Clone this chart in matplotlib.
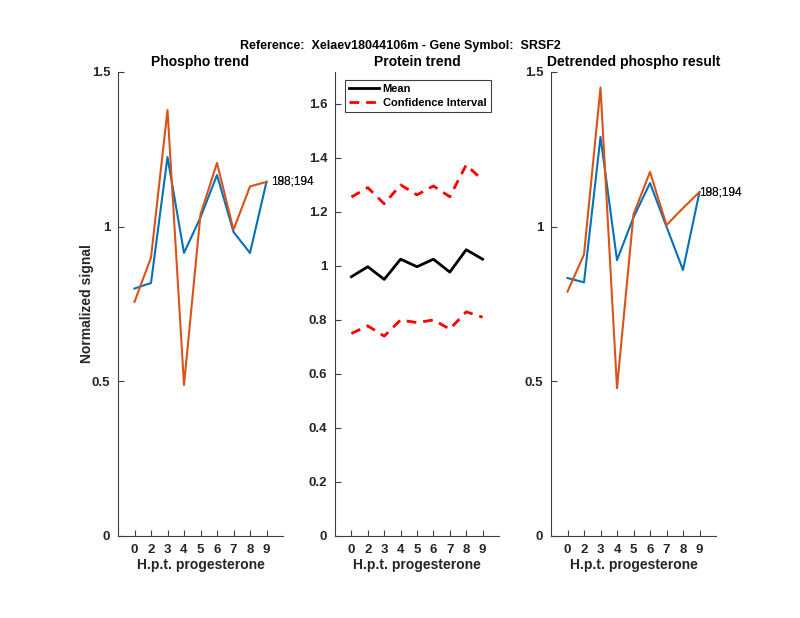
import matplotlib
matplotlib.use("Agg")
import matplotlib.pyplot as plt

plt.rcParams['font.family'] = ['Liberation Sans', 'DejaVu Sans']

timepoints = ['0', '2', '3', '4', '5', '6', '7', '8', '9']
xpos = list(range(1, 10))

phospho_blue = [0.80, 0.818, 1.225, 0.915, 1.03, 1.167, 0.983, 0.915, 1.145]
phospho_orange = [0.757, 0.90, 1.377, 0.488, 1.04, 1.206, 0.99, 1.13, 1.145]

protein_mean = [0.96, 0.997, 0.95, 1.025, 0.997, 1.025, 0.977, 1.06, 1.025]
protein_lower = [0.75, 0.778, 0.74, 0.80, 0.79, 0.80, 0.766, 0.83, 0.81]
protein_upper = [1.255, 1.29, 1.23, 1.30, 1.263, 1.296, 1.256, 1.374, 1.318]

detr_blue = [0.834, 0.82, 1.29, 0.892, 1.03, 1.141, 1.0, 0.86, 1.112]
detr_orange = [0.79, 0.91, 1.45, 0.478, 1.04, 1.177, 1.005, 1.06, 1.112]

site_labels = ['188;194', '198;194']

BLUE = '#0072BD'
ORANGE = '#D95319'
AXC = '#404040'
TXT = '#262626'

fig = plt.figure(figsize=(8, 6.18), dpi=100)
W, H = 800, 618

def make_ax(x0, x1, y0=72, y1=536):
    return fig.add_axes([x0 / W, (H - y1) / H, (x1 - x0) / W, (y1 - y0) / H])

axes = [make_ax(118, 283), make_ax(335, 499), make_ax(551, 716)]

def style(ax, ylim, yticks, yticklabels):
    ax.set_xlim(0, 10)
    ax.set_ylim(*ylim)
    ax.set_xticks(xpos)
    ax.set_xticklabels(timepoints)
    ax.set_yticks(yticks)
    ax.set_yticklabels(yticklabels)
    for s in ['top', 'right']:
        ax.spines[s].set_visible(False)
    for s in ['left', 'bottom']:
        ax.spines[s].set_color(AXC)
        ax.spines[s].set_linewidth(0.8)
    ax.tick_params(direction='in', length=4, width=0.8, color=AXC,
                   labelsize=9.5, labelcolor=TXT, pad=5.5)
    for lab in ax.get_xticklabels() + ax.get_yticklabels():
        lab.set_fontweight('bold')
    ax.set_xlabel('H.p.t. progesterone', fontsize=10, fontweight='bold',
                  color=TXT, labelpad=2)

# Left panel
ax = axes[0]
ax.plot(xpos, phospho_blue, color=BLUE, lw=1.5)
ax.plot(xpos, phospho_orange, color=ORANGE, lw=1.5)
style(ax, (0, 1.5), [0, 0.5, 1, 1.5], ['0', '0.5', '1', '1.5'])
ax.set_title('Phospho trend', fontsize=10, fontweight='bold', pad=4)
ax.set_ylabel('Normalized signal', fontsize=10, fontweight='bold', color=TXT,
              va='center')
ax.yaxis.set_label_coords(-0.185, 0.5)
for lab in site_labels:
    ax.text(9.25, phospho_blue[-1], lab, fontsize=8.5, va='center', ha='left', color='#111111')

# Middle panel
ax = axes[1]
ax.plot(xpos, protein_mean, color='black', lw=2, label='Mean')
ax.plot(xpos, protein_upper, color='red', lw=2, ls=(0, (3.5, 2.5)), label='Confidence Interval')
ax.plot(xpos, protein_lower, color='red', lw=2, ls=(0, (3.5, 2.5)))
style(ax, (0, 1.718), [0, 0.2, 0.4, 0.6, 0.8, 1.0, 1.2, 1.4, 1.6],
      ['0', '0.2', '0.4', '0.6', '0.8', '1', '1.2', '1.4', '1.6'])
ax.set_title('Protein trend', fontsize=10, fontweight='bold', pad=4)
leg = ax.legend(loc='upper left', bbox_to_anchor=(0.06, 0.983), fancybox=False,
                framealpha=1, edgecolor=AXC, prop={'weight': 'bold', 'size': 8},
                handlelength=2.7, borderpad=0.4, labelspacing=0.3, handletextpad=0.3,
                borderaxespad=0.0)
leg.get_frame().set_linewidth(0.8)

# Right panel
ax = axes[2]
ax.plot(xpos, detr_blue, color=BLUE, lw=1.5)
ax.plot(xpos, detr_orange, color=ORANGE, lw=1.5)
style(ax, (0, 1.5), [0, 0.5, 1, 1.5], ['0', '0.5', '1', '1.5'])
ax.set_title('Detrended phospho result', fontsize=10, fontweight='bold', pad=4)
for lab in site_labels:
    ax.text(9.0, detr_blue[-1], lab, fontsize=8.5, va='center', ha='left', color='#111111')

fig.text(0.5, 1 - 46 / H, 'Reference:  Xelaev18044106m - Gene Symbol:  SRSF2',
         ha='center', va='center', fontsize=9, fontweight='bold')

fig.savefig('out.png', dpi=100)
